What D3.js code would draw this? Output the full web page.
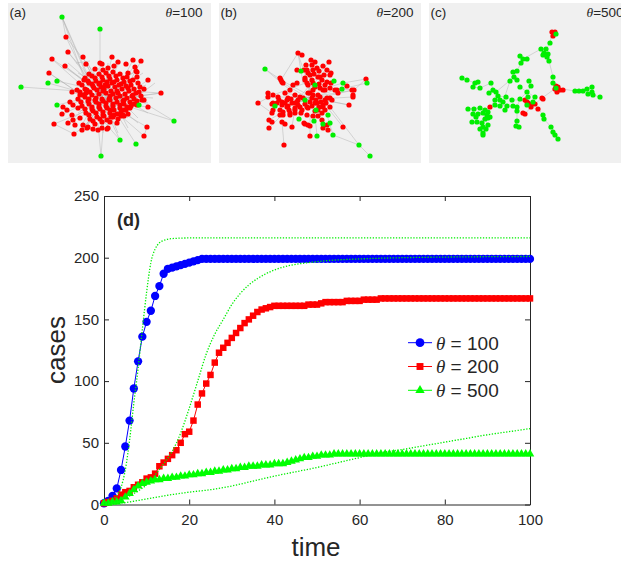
<!DOCTYPE html>
<html>
<head>
<meta charset="utf-8">
<script src="https://cdn.jsdelivr.net/npm/d3@7"></script>
<style>
  body { margin: 0; background: #fff; }
  text { font-family: "Liberation Sans", Arial, sans-serif; fill: #262626; }
</style>
</head>
<body>
<div id="chart"></div>
<script>
// ---- epidemic curves, one value per time step (t = 0..100)
var casesTheta100 = [
  1,3,7,13,28,47,68,94,116,136,
  148,157,169,177,187,191,192,193,194,195,
  196,197,198,199,199,199,199,199,199,199,
  199,199,199,199,199,199,199,199,199,199,
  199,199,199,199,199,199,199,199,199,199,
  199,199,199,199,199,199,199,199,199,199,
  199,199,199,199,199,199,199,199,199,199,
  199,199,199,199,199,199,199,199,199,199,
  199,199,199,199,199,199,199,199,199,199,
  199,199,199,199,199,199,199,199,199,199,
  199];
var casesTheta200 = [
  1,2,3,5,8,10,11,14,16,18,
  21,22,25,31,34,37,40,44,50,57,
  59,68,81,90,98,105,115,123,127,131,
  135,139,143,147,150,153,156,158,159,160,
  161,161,161,161,161,161,161,161,162,162,
  162,163,164,164,164,164,164,165,165,165,
  165,166,166,166,166,167,167,167,167,167,
  167,167,167,167,167,167,167,167,167,167,
  167,167,167,167,167,167,167,167,167,167,
  167,167,167,167,167,167,167,167,167,167,
  167];
var casesTheta500 = [
  1,1,2,2,3,6,9,12,15,17,
  18,19,20,20,21,21,22,22,23,23,
  24,24,25,25,26,26,27,27,28,28,
  29,29,30,30,31,31,31,32,32,32,
  33,33,33,34,35,36,37,38,38,39,
  39,40,40,40,41,41,41,41,41,41,
  41,41,41,41,41,41,41,41,41,41,
  41,41,41,41,41,41,41,41,41,41,
  41,41,41,41,41,41,41,41,41,41,
  41,41,41,41,41,41,41,41,41,41,
  41];

var modelTime1 = [0,1,2,3,4,5,6,7,8,9,10,11,12,13,14,16,20,100];
var modelCases1 = [1.5,2.5,4,7,14,28,52,82,110,142,172,196,207,212,214,215.5,216,216];
var modelTime2 = [0,4,8,10,12,14,16,18,20,22,24,26,28,30,32,34,36,38,40,44,48,52,60,70,80,100];
var modelCases2 = [1,4,11,16,24,33,43,58,78,100,122,138,150,162,171,178,183,187,190,194,196,197.5,199,200,200.5,201];
var modelTime3 = [0,5,10,15,20,25,30,35,40,45,50,55,60,65,70,75,80,85,90,95,100];
var modelCases3 = [0,1.5,4.5,7.5,10,12,15,19,23,26.5,30,34,38,42,44.5,47.5,50.5,53.5,56.5,59,61.5];

var seriesNames = ["100", "200", "500"];
var xTicks = [0,20,40,60,80,100];
var yTicks = [0,50,100,150,200,250];

// ---- network snapshots: [x, y, infected?] in layout units
var netA = [
  [54,14,0],[92,26,0],[13,84,0],[40,80,0],[49,78,0],[49,102,0],[131,102,0],[166,118,0],[112,137,0],[128,141,0],[93,153,0],
  [58,34,1],[60,49,1],[44,56,1],[57,63,1],[75,54,1],[78,61,1],[41,70,1],[104,54,1],[110,59,1],[92,60,1],[125,57,1],[133,58,1],
  [128,68,1],[129,74,1],[140,77,1],[136,86,1],[153,90,1],[136,97,1],[140,104,1],[46,121,1],[66,131,1],[74,127,1],[90,127,1],
  [99,126,1],[139,124,1],[136,133,1],[116,113,1],[55,104,1],[54,111,1],[60,120,1],[80,124,1],[105,114,1],
  [94,61,1],[100,65,1],[106,63,1],[118,61,1],[127,64,1],[120,70,1],[129,69,1],[87,66,1],[95,67,1],[81,71,1],[76,77,1],[71,80,1],
  [69,87,1],[64,89,1],[72,92,1],[62,99,1],[65,102,1],[70,105,1],[59,107,1],[64,112,1],[72,115,1],[65,117,1],[75,122,1],[67,122,1],
  [79,125,1],[85,126,1],[94,125,1],[100,125,1],[109,120,1],[115,112,1],[122,105,1],[129,102,1],[134,97,1],[132,84,1],[102,119,1],
  [77,75,1],[84,73,1],[91,71,1],[98,70,1],[105,69,1],[112,71,1],[119,74,1],[125,77,1],
  [74,82,1],[81,80,1],[88,78,1],[95,77,1],[102,76,1],[109,77,1],[116,79,1],[123,82,1],[130,80,1],
  [72,89,1],[79,87,1],[86,85,1],[93,84,1],[100,83,1],[107,84,1],[114,86,1],[121,88,1],[128,90,1],
  [70,96,1],[77,94,1],[84,92,1],[91,91,1],[98,90,1],[105,91,1],[112,93,1],[119,95,1],[126,96,1],[133,93,1],
  [74,103,1],[81,101,1],[88,99,1],[95,98,1],[102,97,1],[109,99,1],[116,101,1],[123,103,1],
  [78,110,1],[85,108,1],[92,106,1],[99,105,1],[106,107,1],[113,109,1],[120,111,1],
  [82,116,1],[89,114,1],[96,113,1],[103,114,1],[110,116,1],[87,121,1],[94,119,1],
  [88,95,1],[95,88,1],[102,93,1],[109,88,1],[116,97,1],[84,104,1],[91,101,1],[98,100,1],[105,103,1],[112,105,1],
  [81,96,1],[120,85,1],[113,81,1],[106,79,1],[99,79,1],[92,80,1],[85,83,1],[78,90,1],[125,92,1],[118,107,1],[95,109,1],[102,110,1],
  [80,78,1],[87,75,1],[94,74,1],[101,73,1],[108,73,1],[115,75,1],[122,78,1],
  [77,86,1],[84,81,1],[91,81,1],[97,82,1],[104,80,1],[111,82,1],[118,83,1],[126,86,1],
  [75,92,1],[82,89,1],[89,87,1],[96,86,1],[103,88,1],[110,90,1],[117,91,1],[124,93,1],[131,89,1],
  [73,99,1],[80,98,1],[87,97,1],[94,96,1],[101,96,1],[108,95,1],[115,98,1],[122,99,1],[129,98,1],
  [77,106,1],[84,106,1],[91,104,1],[98,103,1],[105,101,1],[112,102,1],[119,104,1],[126,101,1],
  [81,112,1],[88,110,1],[95,112,1],[102,107,1],[109,111,1],[116,107,1],
  [85,118,1],[92,116,1],[99,117,1],[106,112,1],[113,113,1]
];
var linksA = [
  [54,14,76,75],[54,14,84,85],[54,14,58,34],[58,34,80,80],[58,34,94,80],[92,26,92,71],[13,84,70,88],[40,80,76,90],
  [49,78,80,85],[49,102,74,96],[131,102,112,96],[166,118,128,95],[166,118,122,104],[112,137,98,108],[112,137,90,112],
  [128,141,108,110],[93,153,96,113],[93,153,90,120],[60,49,84,80],[44,56,79,87],[57,63,86,85],[41,70,77,94],
  [153,90,121,88],[153,90,119,95],[46,121,78,108],[139,124,113,109],[136,133,106,107],[140,104,116,101],
  [60,60,130,120],[70,70,140,110],[65,115,135,70],[75,125,125,65],[80,60,110,130],[100,60,95,130],[62,90,145,95],
  [70,80,140,100],[72,108,138,82],[90,65,120,125],[110,62,80,122],[125,70,70,110],[130,115,85,70],[66,100,128,74],
  [104,54,90,110],[125,57,100,105],[74,127,110,80],[99,126,105,80],[133,58,110,100],[78,61,100,100],[75,54,95,95],
  [116,113,80,90],[129,74,90,100],[55,111,100,90],[60,120,110,95],[68,60,82,58],[46,121,66,131],[136,133,139,124],
  [60,49,104,100],[41,70,100,110],[44,56,95,90],[54,14,90,95],[140,77,85,115],[147,80,95,120],[153,90,75,100],
  [66,131,120,90],[90,127,125,80],[110,59,75,120],[57,63,120,115],[128,68,70,100]
];

var netB = [
  [46,66,0],[82,68,0],[115,78,0],[124,80,0],[123,86,0],[148,80,0],[96,82,0],[86,97,0],[56,103,0],[97,107,0],
  [80,116,0],[95,118,0],[104,121,0],[111,120,0],[109,112,0],[98,133,0],[114,132,0],[140,142,0],[151,153,0],
  [79,50,1],[83,52,1],[92,57,1],[96,59,1],[110,59,1],[104,63,1],[98,65,1],[88,67,1],[91,72,1],[108,67,1],[111,72,1],
  [86,77,1],[101,74,1],[62,77,1],[64,80,1],[78,80,1],[71,87,1],[66,90,1],[49,90,1],[54,92,1],[59,94,1],[68,97,1],
  [39,100,1],[54,100,1],[63,102,1],[69,103,1],[76,100,1],[81,94,1],[91,90,1],[94,87,1],[99,92,1],[104,87,1],[106,97,1],
  [111,95,1],[111,104,1],[104,104,1],[96,100,1],[88,104,1],[81,104,1],[76,107,1],[71,110,1],[64,112,1],[61,107,1],
  [54,107,1],[53,110,1],[63,119,1],[73,124,1],[85,120,1],[91,123,1],[103,117,1],[104,125,1],[108,122,1],[124,124,1],
  [130,102,1],[134,94,1],[135,87,1],[128,83,1],[118,87,1],[147,76,1],[50,117,1],[50,125,1],[65,142,1],[91,133,1],
  [85,67,1],[89,70,1],[94,67,1],[112,70,1],[99,74,1],[86,75,1],[93,77,1],[103,77,1],[108,79,1],[89,82,1],[96,84,1],
  [101,85,1],[106,87,1],[111,85,1],[116,87,1],[119,90,1],[89,90,1],[94,92,1],[101,94,1],[108,95,1],[113,97,1],
  [91,99,1],[98,100,1],[104,102,1],[89,105,1],[99,107,1],[106,107,1],[76,92,1],[69,95,1],[63,99,1],[73,100,1],
  [79,102,1],[68,104,1],[76,105,1],[83,107,1],[64,109,1],[71,112,1],[58,100,1],[53,101,1],[49,94,1],[84,95,1],
  [79,97,1],[133,87,1],[134,92,1],[109,127,1],[66,121,1],[86,121,1],[89,122,1],[99,113,1],[74,82,1],[63,79,1],
  [61,75,1],[78,67,1],[53,119,1],[87,62,1],[93,62,1],[100,68,1],[95,71,1],[105,72,1],[88,80,1],[94,80,1],[100,81,1],
  [106,82,1],[112,80,1],[93,95,1],[97,97,1],[102,99,1],[107,100,1],[86,101,1],[93,103,1],[100,104,1],[96,108,1],
  [103,110,1],[60,97,1],[66,100,1],[72,96,1],[78,99,1],[70,107,1],[76,110,1],[61,112,1],[82,110,1],[88,112,1],[94,113,1]
];
var linksB = [
  [46,66,62,77],[46,66,71,87],[151,153,140,142],[140,142,114,132],[140,142,111,104],[147,76,124,80],[124,80,100,87],
  [148,80,118,87],[135,87,96,84],[135,87,76,100],[134,94,80,97],[130,102,106,97],[39,100,54,92],[39,100,53,110],
  [65,142,63,119],[79,50,84,80],[50,125,63,112],[50,117,64,109],[73,124,76,105],[124,124,108,104],[91,133,91,112],
  [98,133,96,112],[114,132,108,112],[62,77,111,104],[54,92,108,72],[64,80,104,104],[59,94,111,95],[71,110,106,67],
  [86,77,99,107],[92,57,89,105],[79,51,96,100],[110,59,76,100],[66,90,130,102],[63,99,135,87],[69,103,128,83],
  [147,76,135,87],[62,77,79,50]
];

var netC = [
  [123,29,1],[126,29,1],[124,33,1],[127,31,0],
  [121,40,0],[117,46,0],[112,46,0],[115,50,0],[119,51,0],[114,52,0],[118,54,0],[120,58,0],
  [91,53,0],[94,56,0],[98,56,0],[92,60,0],[88,68,0],[84,69,0],[85,74,0],[81,78,0],[88,77,0],
  [100,78,0],[102,83,0],[91,84,0],[98,89,0],[124,74,0],[124,80,0],
  [127,83,1],[129,84,1],[126,86,1],[128,89,1],[131,87,1],[134,87,1],[127,85,0],
  [146,88,0],[150,88,0],[154,88,0],[158,86,0],[163,84,0],[163,89,0],[159,91,0],[164,92,0],[171,94,0],
  [33,75,0],[38,77,0],[46,80,0],[49,79,0],[44,84,0],[51,85,0],[62,80,0],[64,87,0],[67,89,0],[60,90,0],
  [69,93,0],[66,97,0],[71,97,0],[74,99,0],[77,94,0],[83,97,0],[91,96,0],[99,94,0],[106,94,0],[104,99,0],
  [98,102,0],[88,104,0],[84,103,0],[78,103,0],[76,107,0],[71,103,0],[61,104,1],[66,102,0],
  [39,106,0],[45,106,0],[51,105,0],[56,107,0],[59,109,0],[54,110,0],[49,111,0],[44,111,0],[47,114,0],
  [58,112,0],[61,114,0],[56,116,0],[48,119,0],[43,119,0],[59,115,0],[53,120,0],[54,124,0],[59,122,0],
  [51,126,0],[57,126,0],[54,130,0],[54,132,0],
  [88,108,0],[88,118,0],[87,123,0],[90,124,0],[114,112,0],[115,116,0],[122,124,0],[124,129,0],[126,132,0],[129,136,0],
  [96,97,1],[98,99,1],[99,100,1],[94,110,1],[96,111,1],[103,101,1],[106,101,1],[102,104,1],[109,106,1],[113,95,1],[114,96,1]
];
var linksC = [
  [123,29,121,40],[121,40,117,46],[117,46,114,52],[117,46,112,46],[115,50,119,51],[118,54,120,58],[120,58,124,74],
  [124,74,124,80],[124,80,127,85],[112,46,94,56],[94,56,91,53],[94,56,92,60],[92,60,88,68],[88,68,84,69],[88,68,85,74],
  [85,74,81,78],[85,74,88,77],[81,78,74,99],[85,74,67,89],[100,78,102,83],[102,83,98,89],[98,89,91,96],[91,84,98,89],
  [98,89,106,94],[127,85,146,88],[146,88,158,86],[158,86,163,84],[158,86,159,91],[159,91,164,92],[164,92,171,94],
  [163,84,163,89],[127,85,113,95],[113,95,106,101],[106,101,99,100],[99,100,96,97],[96,97,83,97],[83,97,77,94],
  [77,94,69,93],[69,93,66,97],[66,97,61,104],[61,104,56,107],[56,107,51,105],[51,105,39,106],[56,107,54,110],
  [54,110,44,111],[54,110,56,116],[56,116,48,119],[48,119,43,119],[56,116,59,122],[59,122,54,124],[54,124,51,126],
  [54,124,57,126],[57,126,54,132],[33,75,46,80],[46,80,49,79],[46,80,44,84],[44,84,51,85],[51,85,62,80],[62,80,64,87],
  [64,87,67,89],[67,89,60,90],[67,89,69,93],[91,96,88,104],[88,104,78,103],[78,103,76,107],[78,103,66,102],
  [88,104,88,108],[88,108,88,118],[88,118,87,123],[87,123,90,124],[106,101,114,112],[114,112,115,116],
  [115,116,122,124],[122,124,129,136],[102,104,109,106],[94,110,96,111],[96,111,102,104],[103,101,102,104]
];

var W = 621, H = 562;
var svg = d3.select("#chart").append("svg")
  .attr("width", W).attr("height", H);

// ---- top row: network panels
var panels = [
  {label: "(a)", theta: "100", x0: 8, w: 203, nodes: netA, links: linksA},
  {label: "(b)", theta: "200", x0: 219, w: 202, nodes: netB, links: linksB},
  {label: "(c)", theta: "500", x0: 429, w: 200, nodes: netC, links: linksC}
];

panels.forEach(function(p) {
  var g = svg.append("g").attr("transform", "translate(" + p.x0 + ",3)");
  g.append("rect").attr("width", p.w).attr("height", 160).attr("fill", "#f0f0f0");

  var nx = d3.scaleLinear().domain([0, p.w]).range([0, p.w]);
  var ny = d3.scaleLinear().domain([0, 160]).range([0, 160]);

  g.selectAll("line.edge")
    .data(p.links)
    .enter().append("line")
    .attr("class", "edge")
    .attr("x1", function(d){ return nx(d[0]); })
    .attr("y1", function(d){ return ny(d[1]); })
    .attr("x2", function(d){ return nx(d[2]); })
    .attr("y2", function(d){ return ny(d[3]); })
    .attr("stroke", "#b0b0b0")
    .attr("stroke-width", 0.6)
    .attr("stroke-opacity", 0.8);

  var ordered = p.nodes.slice().sort(function(a, b){ return b[2] - a[2]; });
  g.selectAll("circle")
    .data(ordered)
    .enter().append("circle")
    .attr("cx", function(d){ return nx(d[0]); })
    .attr("cy", function(d){ return ny(d[1]); })
    .attr("r", 2.6)
    .attr("fill", function(d){ return d[2] ? "#ff0000" : "#00ee00"; });

  g.append("text").attr("x", 1.5).attr("y", 13.7)
    .style("font-size", "13.5px").text(p.label);
  var t = g.append("text").attr("x", 157.5).attr("y", 13.7).style("font-size", "13.5px");
  t.append("tspan").style("font-family", "'Liberation Serif', serif").style("font-style", "italic").text("θ");
  t.append("tspan").text("=" + p.theta);
});

// ---- main chart
var x = d3.scaleLinear().domain([0, 100]).range([104, 530]);
var y = d3.scaleLinear().domain([0, 250]).range([504.5, 196]);

var axisColor = "#262626";
function styleAxis(sel) {
  sel.selectAll("path, line").attr("stroke", axisColor).attr("stroke-width", 1);
  sel.selectAll("text").attr("fill", axisColor).style("font-size", "15px")
    .style("font-family", "'Liberation Sans', Arial, sans-serif");
}

svg.append("g").attr("transform", "translate(0,504.5)")
  .call(d3.axisBottom(x).tickValues(xTicks).tickSizeInner(-5).tickSizeOuter(0).tickPadding(10))
  .call(styleAxis);
svg.append("g").attr("transform", "translate(104,0)")
  .call(d3.axisLeft(y).tickValues(yTicks).tickSizeInner(-5).tickSizeOuter(0).tickPadding(5))
  .call(styleAxis);
svg.append("g").attr("transform", "translate(0,196)")
  .call(d3.axisTop(x).tickValues(xTicks).tickSizeInner(-5).tickSizeOuter(0).tickFormat(""))
  .call(styleAxis);
svg.append("g").attr("transform", "translate(530,0)")
  .call(d3.axisRight(y).tickValues(yTicks).tickSizeInner(-5).tickSizeOuter(0).tickFormat(""))
  .call(styleAxis);

var series = [
  {name: seriesNames[0], values: casesTheta100, color: "#0000ff", symbol: d3.symbolCircle, size: 54},
  {name: seriesNames[1], values: casesTheta200, color: "#ff0000", symbol: d3.symbolSquare, size: 42},
  {name: seriesNames[2], values: casesTheta500, color: "#00ff00", symbol: d3.symbolTriangle, size: 32}
];

var line = d3.line()
  .x(function(d, i){ return x(i); })
  .y(function(d){ return y(d); });

series.forEach(function(s) {
  svg.append("path").datum(s.values)
    .attr("d", line)
    .attr("fill", "none")
    .attr("stroke", s.color)
    .attr("stroke-width", 1);
  svg.append("g").selectAll("path")
    .data(s.values)
    .enter().append("path")
    .attr("d", d3.symbol().type(s.symbol).size(s.size))
    .attr("transform", function(d, i){ return "translate(" + x(i) + "," + y(d) + ")"; })
    .attr("fill", s.color);
});

// dotted model curves on top
var models = [
  {t: modelTime1, c: modelCases1},
  {t: modelTime2, c: modelCases2},
  {t: modelTime3, c: modelCases3}
];
var modelLine = d3.line()
  .x(function(d){ return x(d[0]); })
  .y(function(d){ return y(d[1]); })
  .curve(d3.curveMonotoneX);
models.forEach(function(m) {
  svg.append("path")
    .datum(m.t.map(function(t, i){ return [t, m.c[i]]; }))
    .attr("d", modelLine)
    .attr("fill", "none")
    .attr("stroke", "#00ee00")
    .attr("stroke-width", 1.3)
    .attr("stroke-dasharray", "1.3,1.6");
});

// legend
var legend = svg.append("g");
series.forEach(function(s, i) {
  var ly = 342.7 + i * 23.8;
  legend.append("line").attr("x1", 408).attr("x2", 432).attr("y1", ly).attr("y2", ly)
    .attr("stroke", s.color).attr("stroke-width", 1);
  legend.append("path")
    .attr("d", d3.symbol().type(s.symbol).size(s.size + 6))
    .attr("transform", "translate(420," + ly + ")")
    .attr("fill", s.color);
  var t = legend.append("text").attr("x", 436).attr("y", ly + 6.8).style("font-size", "19px");
  t.append("tspan").style("font-family", "'Liberation Serif', serif").style("font-style", "italic").text("θ");
  t.append("tspan").text(" = " + s.name);
});

svg.append("text").attr("x", 117).attr("y", 226)
  .style("font-size", "18px").style("font-weight", "bold").attr("fill", "#000").text("(d)");

svg.append("text")
  .attr("transform", "translate(65,350) rotate(-90)")
  .attr("text-anchor", "middle")
  .style("font-size", "26px")
  .text("cases");
svg.append("text")
  .attr("x", 316).attr("y", 556)
  .attr("text-anchor", "middle")
  .style("font-size", "26px")
  .text("time");
</script>
</body>
</html>
